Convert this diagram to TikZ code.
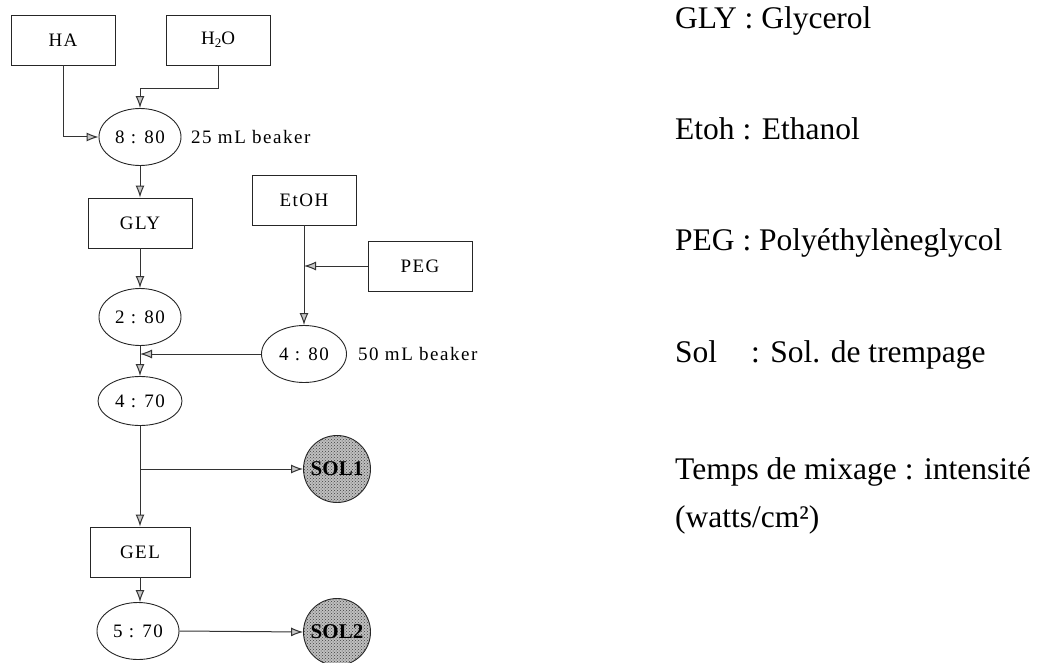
\documentclass[tikz,border=0pt]{standalone}
\usepackage{fontspec}
\setmainfont{Liberation Serif}
\newfontfamily\diagfont{Liberation Serif}[LetterSpace=8]
\usetikzlibrary{shapes.geometric,arrows.meta,patterns}
\begin{document}
\begin{tikzpicture}[x=1pt,y=-1pt,
  lbl/.style={font=\diagfont\fontsize{19}{19}\selectfont},
  boxnode/.style={draw=black!85,line width=0.9pt,minimum width=104pt,minimum height=50pt,inner sep=0pt,lbl},
  ovalnode/.style={draw=black!85,line width=0.9pt,ellipse,minimum width=82pt,minimum height=57pt,inner sep=0pt,lbl},
  solnode/.style={draw=black!85,line width=0.9pt,circle,fill=gray!50,minimum size=67pt,inner sep=0pt,font=\bfseries\fontsize{21}{21}\selectfont,
    postaction={pattern=crosshatch dots,pattern color=black!75}},
  arr/.style={draw=black!80,line width=1pt,-{Latex[length=12pt,width=9pt,fill=gray!45]}},
  legend/.style={anchor=base west,inner sep=0pt,font=\fontsize{31.5}{31.5}\selectfont}]
\useasboundingbox (0,0) rectangle (1038,663);
% top inputs
\node[boxnode] (HA) at (63,40) {HA};
\node[boxnode] (H2O) at (218,40) {H\raisebox{-3pt}{\fontsize{13}{13}\selectfont 2}O};
\node[ovalnode] (e1) at (140,137) {8 : 80};
\node[lbl,anchor=west,inner sep=0pt] (b1) at (191,137) {25 mL beaker};
\node[boxnode] (GLY) at (140,223) {GLY};
\node[ovalnode] (e2) at (140,317) {2 : 80};
% right branch
\node[boxnode] (EtOH) at (304,200) {EtOH};
\node[boxnode] (PEG) at (420,266) {PEG};
\node[ovalnode,minimum width=85pt] (e3) at (304,354) {4 : 80};
\node[lbl,anchor=west,inner sep=0pt] (b2) at (358,354) {50 mL beaker};
% lower
\node[ovalnode,minimum width=84pt,minimum height=49pt] (e4) at (140,401) {4 : 70};
\node[solnode] (SOL1) at (337,469) {SOL1};
\node[boxnode,minimum width=100pt] (GEL) at (140,552) {GEL};
\node[ovalnode] (e5) at (138,631) {5 : 70};
\node[solnode] (SOL2) at (337,632) {SOL2};
% connectors
\draw[arr] (HA.south) |- (e1.west);
\draw[arr] (H2O.south) -- ++(0,23) -| (e1.north);
\draw[arr] (e1.south) -- (GLY.north);
\draw[arr] (GLY.south) -- (e2.north);
\draw[arr] (EtOH.south) -- (e3.north);
\draw[arr] (PEG.west) -- (EtOH.south |- PEG.west);
\draw[arr] (e3.west) -- (e2.south |- e3.west);
\draw[arr] (e2.south) -- (e2.south |- e4.north);
\draw[arr] (e4.south) -- (e4.south |- GEL.north);
\coordinate (br) at (e4.south |- SOL1.west);
\draw[arr] (br) -- (SOL1.west);
\draw[arr] (GEL.south) -- (GEL.south |- e5.north);
\draw[arr] (e5.east) -- (SOL2.west);
% legend
\node[legend] (l1) at (675,29) {GLY : Glycerol};
\node[legend] (l2) at (675,140) {Etoh : Ethanol};
\node[legend] (l3) at (675,250) {PEG : Polyéthylèneglycol};
\node[legend] (l4) at (675,362) {Sol\hspace{34pt}: Sol. de trempage};
\node[legend] (l5) at (675,479) {Temps de mixage : intensité};
\node[legend] (l6) at (675,527) {(watts/cm²)};
\end{tikzpicture}
\end{document}
